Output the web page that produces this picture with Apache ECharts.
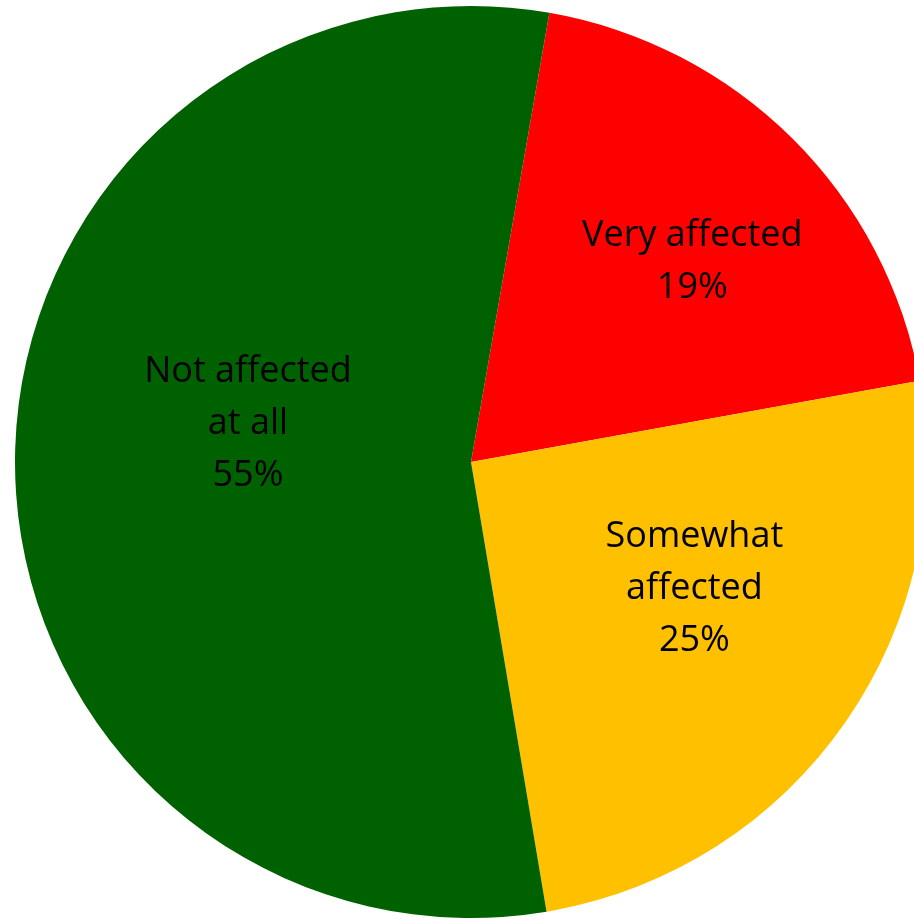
<!DOCTYPE html>
<html>
<head>
<meta charset="utf-8">
<script src="https://cdn.jsdelivr.net/npm/echarts@6/dist/echarts.min.js"></script>
<style>
html,body{margin:0;padding:0;background:#fff;}
#chart{width:914px;height:920px;}
</style>
</head>
<body>
<div id="chart"></div>
<script>
var categories = ['Very affected', 'Somewhat\naffected', 'Not affected\nat all'];
var values = [19.4, 25.2, 55.4];
var labelsPct = ['19%', '25%', '55%'];
var colors = ['#FF0000', '#FFC000', '#006100'];

var chart = echarts.init(document.getElementById('chart'));
var center = [471, 462];
var R = 456;
var startAngle = 80.1;
var labelRadii = [R * 1.32, R * 1.12, R * 1.0];
// spacer line heights [before, after] and left indent to nudge labels
var spacers = [[30, 0, 14], [0, 44, 24], [0, 76, 16]];

var data = categories.map(function (c, i) {
  return { name: c, value: values[i], itemStyle: { color: colors[i] } };
});

var series = [{
  type: 'pie',
  center: center,
  radius: [0, R],
  startAngle: startAngle,
  clockwise: true,
  silent: true,
  label: { show: false },
  labelLine: { show: false },
  itemStyle: { borderWidth: 0 },
  emphasis: { disabled: true },
  data: data
}];

categories.forEach(function (c, k) {
  var sp = spacers[k];
  series.push({
    type: 'pie',
    center: center,
    radius: [0, labelRadii[k]],
    startAngle: startAngle,
    clockwise: true,
    silent: true,
    z: 5,
    emphasis: { disabled: true },
    labelLine: { show: false },
    itemStyle: { color: 'rgba(0,0,0,0)', borderWidth: 0 },
    data: categories.map(function (cc, i) {
      return {
        name: cc,
        value: values[i],
        label: {
          show: i === k,
          position: 'inside',
          formatter: function () {
            var lines = (cc + '\n' + labelsPct[i]).split('\n').map(function (l) { return '{p| }{t|' + l + '}'; });
            if (sp[0]) lines.unshift('{a| }');
            if (sp[1]) lines.push('{b| }');
            return lines.join('\n');
          },
          color: '#000',
          fontFamily: 'Open Sans',
          fontSize: 36,
          rich: {
            t: { fontFamily: 'Open Sans', fontSize: 36, lineHeight: 52, color: '#000' },
            p: { fontSize: 10, width: sp[2], lineHeight: 52 },
            a: { fontSize: 10, lineHeight: sp[0] || 1 },
            b: { fontSize: 10, lineHeight: sp[1] || 1 }
          }
        }
      };
    })
  });
});

chart.setOption({
  animation: false,
  series: series
});
</script>
</body>
</html>
